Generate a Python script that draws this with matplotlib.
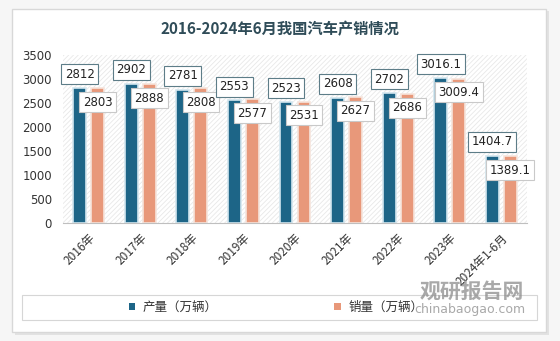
import matplotlib
matplotlib.use("Agg")
import matplotlib.pyplot as plt
from matplotlib.patches import Rectangle, FancyBboxPatch
import numpy as np

# フォント設定
plt.rcParams['font.family'] = ['Noto Sans CJK SC', 'DejaVu Sans']
plt.rcParams['hatch.linewidth'] = 0.6

# --- データ ---
years = ["2016年", "2017年", "2018年", "2019年", "2020年", "2021年", "2022年", "2023年", "2024年1-6月"]
production = [2812, 2902, 2781, 2553, 2523, 2608, 2702, 3016.1, 1404.7]
sales = [2803, 2888, 2808, 2577, 2531, 2627, 2686, 3009.4, 1389.1]
prod_labels = ["2812", "2902", "2781", "2553", "2523", "2608", "2702", "3016.1", "1404.7"]
sales_labels = ["2803", "2888", "2808", "2577", "2531", "2627", "2686", "3009.4", "1389.1"]
series_names = ["产量（万辆）", "销量（万辆）"]
y_ticks = [0, 500, 1000, 1500, 2000, 2500, 3000, 3500]

blue = "#1d6587"
salmon = "#e8987a"

W, H = 560, 341
fig = plt.figure(figsize=(W / 100, H / 100), dpi=100)
fig.patch.set_facecolor("#f6f6f6")

# 外枠（影付き）
fig.patches.append(FancyBboxPatch((15 / W, 1 - 335 / H), 534 / W, 324 / H,
                                  boxstyle="square,pad=0", transform=fig.transFigure,
                                  fc="#e2e2e2", ec="none", zorder=-2))
fig.patches.append(FancyBboxPatch((12 / W, 1 - 332 / H), 534 / W, 323 / H,
                                  boxstyle="square,pad=0", transform=fig.transFigure,
                                  fc="white", ec="#d8d8d8", lw=1, zorder=-1))

ax = fig.add_axes([63 / W, 1 - 223 / H, 464 / W, 168 / H])
ax.set_zorder(2)
ax.set_facecolor("white")
ax.add_patch(Rectangle((0, 0), 1, 1, transform=ax.transAxes, fc="white",
                       ec="#e8e8e8", hatch="///////", lw=0, zorder=0))

x = np.arange(len(years))
off, bw = 0.175, 0.25
b1 = ax.bar(x - off, production, bw, color=blue, edgecolor="#d3e6ef", linewidth=1.2, zorder=2,
            label=series_names[0])
b2 = ax.bar(x + off, sales, bw, color=salmon, edgecolor="#f6e4dc", linewidth=1.2, zorder=2,
            label=series_names[1])

# データラベル
for i in range(len(years)):
    ax.annotate(prod_labels[i], (x[i] - off, production[i]), xytext=(0, 10), textcoords="offset points",
                ha="center", va="center", fontsize=8.5, color="#222222", family="DejaVu Sans", zorder=5,
                bbox=dict(boxstyle="square,pad=0.3", fc="white", ec="#5d7d88", lw=0.8))
    ax.annotate(sales_labels[i], (x[i] + off, sales[i]), xytext=(0, -10), textcoords="offset points",
                ha="center", va="center", fontsize=8.5, color="#222222", family="DejaVu Sans", zorder=5,
                bbox=dict(boxstyle="square,pad=0.3", fc="white", ec="#c9c9c9", lw=0.8))

ax.set_xlim(-0.5, len(years) - 0.5)
ax.set_ylim(0, 3500)
ax.set_yticks(y_ticks)
ax.set_yticklabels([str(t) for t in y_ticks], family="DejaVu Sans", fontsize=8.5, color="#333333")
ax.set_xticks(x)
ax.set_xticklabels(years, rotation=45, ha="right", va="top", rotation_mode="anchor",
                   fontsize=8.5, color="#333333")
ax.tick_params(axis="both", length=0)
ax.tick_params(axis="y", pad=8)
ax.tick_params(axis="x", pad=6)
for s in ["top", "right", "left"]:
    ax.spines[s].set_visible(False)
ax.spines["bottom"].set_color("#bfbfbf")
ax.spines["bottom"].set_zorder(3)

# タイトル
fig.text(0.5, 1 - 29 / H, "2016-2024年6月我国汽车产销情况", ha="center", va="center",
         fontsize=11, fontweight="bold", color="#2f4c58")

# 凡例
fig.patches.append(Rectangle((22 / W, 1 - 320 / H), 515 / W, 25 / H, transform=fig.transFigure,
                             fc="white", ec="#d6d6d6", lw=0.8, zorder=1))
leg = fig.legend(handles=[b1, b2], labels=series_names, loc="center",
                 bbox_to_anchor=(276 / W, 1 - 307.5 / H), ncol=2, frameon=False,
                 fontsize=9, handlelength=0.55, handleheight=0.55, handletextpad=0.6,
                 columnspacing=9.3, labelcolor="#333333")
leg.set_zorder(4)
for h in leg.legend_handles:
    h.set_edgecolor("none")

# 透かし
fig.text(472 / W, 1 - 291 / H, "观研报告网", ha="center", va="center", fontsize=15,
         fontweight="bold", color="#8c8c8c", alpha=0.75, zorder=10)
fig.text(470 / W, 1 - 310 / H, "chinabaogao.com", ha="center", va="center", fontsize=9,
         family="DejaVu Sans", color="#8c8c8c", alpha=0.75, zorder=10)

fig.savefig("out.png", dpi=100, facecolor=fig.get_facecolor())
